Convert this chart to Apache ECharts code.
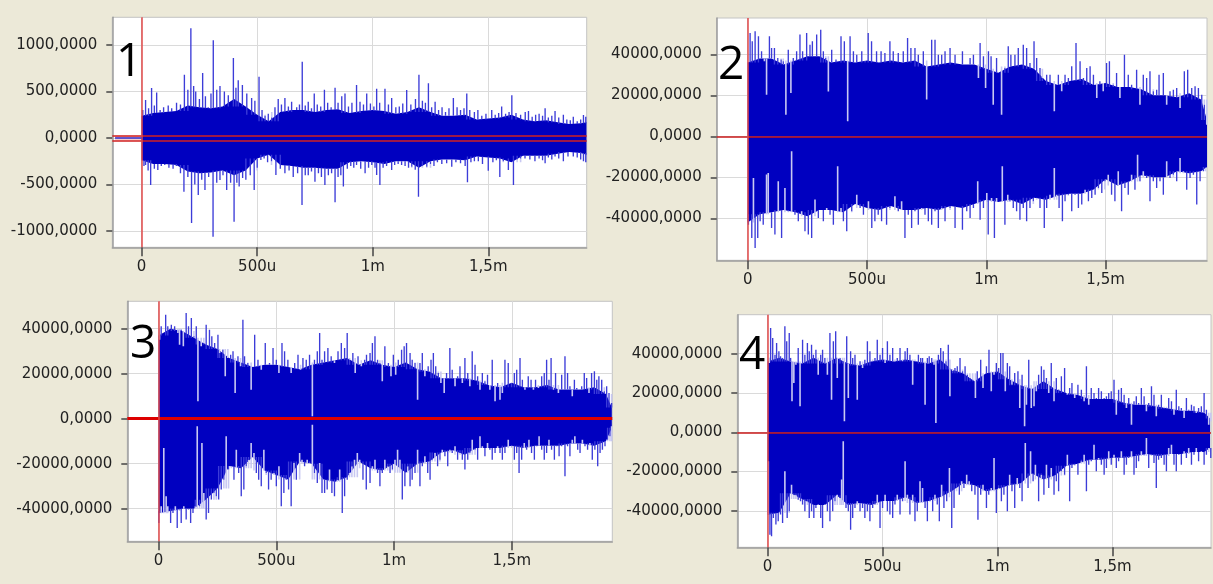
<!DOCTYPE html>
<html><head><meta charset="utf-8">
<script src="https://cdn.jsdelivr.net/npm/echarts@6/dist/echarts.min.js"></script>
<style>html,body{margin:0;padding:0;background:#ece9d8;}#c{width:1213px;height:584px;}</style>
</head><body><div id="c"></div>
<script>
// ---------- axis ticks / labels ----------
const X_TICKS = [0, 500, 1000, 1500];
const X_TICK_LABELS = ['0', '500u', '1m', '1,5m'];
const Y_TICKS_1 = [-1000, -500, 0, 500, 1000];
const Y_TICKS_BIG = [-40000, -20000, 0, 20000, 40000];
const PANEL_NAMES = ['1', '2', '3', '4'];

// sample times of the solid core envelope (all panels)
const CORE_X = [0,50,100,150,200,250,300,350,400,450,500,550,600,650,700,750,800,850,900,950,1000,1050,1100,1150,1200,1250,1300,1350,1400,1450,1500,1550,1600,1650,1700,1750,1800,1850,1900,1925];

// ---------- panel 1 ----------
const P1_CORE_HI = [240,270,280,290,350,330,320,340,420,340,250,180,280,300,300,280,300,310,270,290,300,290,260,280,330,280,240,240,250,200,210,220,250,200,180,190,170,150,160,170];
const P1_CORE_LO = [-240,-280,-280,-290,-360,-380,-370,-350,-400,-350,-220,-180,-290,-300,-320,-320,-330,-330,-260,-250,-260,-280,-250,-250,-320,-250,-230,-230,-240,-200,-210,-220,-260,-190,-190,-190,-170,-150,-160,-180];
const P1_UP = [[5,300],[17,408],[30,320],[43,537],[55,350],[65,490],[80,300],[95,330],[115,350],[130,320],[151,380],[168,360],[185,680],[200,520],[213,1180],[225,560],[234,500],[250,420],[264,700],[276,450],[288,330],[300,480],[310,1050],[325,520],[339,560],[358,500],[375,460],[397,860],[408,540],[418,620],[436,570],[455,480],[476,430],[490,400],[508,660],[521,300],[534,240],[548,260],[563,220],[577,330],[591,420],[605,360],[620,430],[635,340],[649,390],[660,300],[671,330],[683,360],[695,820],[708,350],[721,390],[735,320],[747,480],[760,360],[775,340],[791,520],[805,380],[820,330],[837,540],[850,380],[866,450],[880,480],[895,340],[910,380],[930,570],[945,390],[960,360],[974,480],[990,370],[1005,340],[1017,530],[1030,380],[1053,530],[1068,360],[1082,430],[1100,330],[1115,340],[1130,370],[1147,516],[1165,360],[1185,420],[1200,680],[1215,400],[1228,380],[1241,590],[1255,330],[1270,390],[1285,300],[1300,330],[1315,280],[1330,320],[1349,430],[1365,330],[1380,300],[1395,320],[1407,480],[1420,300],[1440,280],[1455,300],[1472,240],[1490,260],[1515,300],[1530,250],[1545,270],[1558,340],[1575,260],[1590,280],[1602,460],[1620,270],[1640,250],[1660,280],[1674,290],[1690,230],[1705,250],[1720,260],[1735,240],[1746,320],[1760,220],[1775,240],[1789,290],[1805,220],[1825,250],[1840,200],[1855,190],[1868,230],[1885,180],[1900,200],[1912,247],[1922,230]];
const P1_LO = [[10,-300],[17,-290],[28,-350],[39,-505],[55,-330],[70,-344],[85,-300],[100,-290],[118,-320],[136,-330],[150,-300],[168,-380],[183,-577],[200,-420],[216,-914],[230,-500],[245,-613],[260,-450],[274,-559],[290,-420],[309,-1061],[325,-480],[339,-451],[352,-400],[368,-559],[385,-480],[400,-899],[412,-480],[422,-520],[437,-430],[451,-450],[470,-400],[487,-560],[500,-320],[516,-236],[530,-220],[545,-260],[562,-250],[581,-398],[600,-330],[620,-380],[638,-350],[656,-420],[675,-380],[694,-720],[708,-400],[721,-400],[735,-360],[750,-469],[765,-380],[778,-420],[793,-505],[808,-400],[822,-380],[837,-690],[850,-420],[862,-400],[873,-520],[890,-330],[905,-300],[918,-320],[930,-290],[948,-330],[967,-380],[982,-320],[996,-290],[1010,-320],[1017,-397],[1031,-505],[1045,-320],[1060,-300],[1082,-344],[1095,-290],[1110,-280],[1125,-290],[1140,-300],[1155,-320],[1169,-310],[1184,-340],[1198,-631],[1215,-300],[1234,-310],[1250,-280],[1265,-300],[1280,-260],[1299,-280],[1320,-270],[1342,-310],[1360,-260],[1380,-270],[1400,-300],[1410,-475],[1425,-260],[1440,-250],[1457,-250],[1475,-280],[1500,-351],[1520,-260],[1535,-240],[1550,-420],[1565,-250],[1587,-344],[1609,-505],[1625,-230],[1640,-220],[1659,-220],[1680,-230],[1702,-250],[1720,-220],[1735,-240],[1746,-272],[1760,-210],[1775,-230],[1789,-200],[1805,-220],[1825,-250],[1845,-200],[1868,-200],[1885,-210],[1900,-230],[1912,-250],[1922,-260]];
const P1_PRETRIGGER = [[-115,0],[0,0]];
const P1_CURSOR = [-27, 27];

// ---------- panel 2 ----------
const P2_CORE_HI = [36000,38000,38000,35000,37000,39000,39000,36000,37000,36000,37000,36000,37000,36000,37000,34000,35000,36000,35000,35000,33000,31000,34000,35000,33000,27000,25000,27000,28000,25000,26000,24000,24000,23000,20000,20000,19000,21000,18000,8000];
const P2_CORE_LO = [-42000,-38000,-37000,-36000,-37000,-39000,-36000,-36000,-37000,-33000,-35000,-36000,-34000,-36000,-36000,-35000,-36000,-34000,-35000,-33000,-31000,-32000,-31000,-33000,-30000,-31000,-29000,-28000,-28000,-26000,-21000,-24000,-22000,-19000,-20000,-20000,-17000,-18000,-17000,-15000];
const P2_UP = [[10,50400],[19,46300],[31,51200],[45,48800],[58,41450],[70,36600],[79,20300],[91,48800],[100,43100],[112,43100],[126,38200],[140,37400],[149,36600],[160,10560],[170,42260],[181,21100],[191,38200],[205,41450],[219,49600],[230,41450],[247,50400],[261,44700],[271,46300],[289,49600],[306,52000],[317,41450],[327,38200],[338,21900],[352,42260],[370,37400],[391,48800],[405,46300],[419,7300],[429,48800],[443,41450],[457,39800],[478,41450],[492,36600],[505,50400],[519,46300],[540,41450],[559,41450],[575,40640],[596,46300],[610,41450],[631,40640],[652,41450],[670,47950],[684,43100],[701,43100],[715,39800],[736,41450],[750,17900],[771,47100],[785,47100],[799,39800],[813,39800],[827,41450],[848,43100],[869,39800],[900,41450],[932,38200],[946,39800],[967,28450],[974,45500],[988,39000],[997,23570],[1009,41450],[1020,39000],[1029,15440],[1043,38200],[1064,10560],[1078,33320],[1092,43890],[1103,39800],[1120,39800],[1134,43100],[1155,44700],[1169,43100],[1183,35760],[1200,46330],[1211,38200],[1225,33320],[1235,28450],[1253,30070],[1267,30070],[1285,12180],[1302,30070],[1316,21940],[1330,30070],[1344,28450],[1358,34130],[1376,45520],[1393,36570],[1407,28450],[1421,33320],[1435,34130],[1449,30070],[1463,18690],[1476,26820],[1490,21940],[1504,35760],[1516,36570],[1532,25190],[1546,30880],[1560,18690],[1579,39800],[1595,30070],[1609,25190],[1630,32510],[1644,15440],[1658,30070],[1672,28450],[1686,31700],[1700,21940],[1714,22750],[1724,30070],[1742,30880],[1756,15440],[1770,21940],[1784,22750],[1798,23570],[1812,13810],[1830,31700],[1844,32510],[1861,23570],[1875,24380],[1889,23570],[1903,20320],[1914,15440],[1924,5680]];
const P2_LO = [[3,-43100],[17,-49600],[24,-20340],[31,-54500],[42,-49600],[52,-41500],[65,-43100],[79,-18700],[86,-17900],[100,-44700],[114,-47970],[128,-21960],[142,-49600],[156,-25210],[170,-36600],[184,-7330],[198,-38220],[212,-41470],[226,-36600],[240,-46350],[254,-47970],[268,-49600],[282,-30900],[296,-39850],[317,-41470],[331,-34970],[345,-38220],[359,-43100],[377,-14640],[391,-34970],[401,-41470],[415,-46350],[436,-36600],[457,-28470],[471,-34970],[485,-38220],[506,-31720],[520,-44700],[533,-41470],[547,-38220],[561,-41470],[582,-43100],[596,-34970],[617,-29280],[631,-36600],[645,-31720],[659,-49600],[673,-38220],[687,-44700],[701,-36600],[715,-43100],[729,-34970],[743,-38220],[757,-41470],[771,-43100],[785,-36600],[799,-44700],[813,-34970],[827,-41470],[848,-34970],[869,-44700],[900,-45540],[918,-36600],[932,-39850],[946,-34970],[964,-21960],[974,-40660],[988,-34970],[1002,-27650],[1008,-47970],[1022,-30090],[1034,-49600],[1043,-30090],[1067,-14640],[1078,-43100],[1090,-28470],[1099,-31720],[1113,-34970],[1127,-36600],[1141,-40660],[1155,-34970],[1169,-41470],[1183,-34970],[1197,-31720],[1211,-30090],[1225,-34970],[1243,-44700],[1253,-34970],[1267,-28470],[1285,-15460],[1295,-28470],[1305,-34970],[1319,-41470],[1330,-31720],[1344,-28470],[1358,-36600],[1372,-28470],[1386,-34970],[1400,-33340],[1414,-26030],[1428,-31720],[1442,-30090],[1456,-28470],[1470,-25210],[1484,-27650],[1497,-21960],[1511,-18710],[1525,-28470],[1539,-31720],[1553,-17080],[1567,-36600],[1581,-25210],[1595,-28470],[1609,-18710],[1623,-26030],[1634,-8950],[1644,-21960],[1658,-17080],[1672,-20340],[1686,-31720],[1700,-21960],[1714,-25210],[1728,-21960],[1742,-28470],[1756,-12210],[1770,-20340],[1784,-18710],[1798,-21960],[1812,-10580],[1826,-17080],[1840,-26030],[1854,-20340],[1868,-18710],[1882,-33340],[1896,-21960],[1910,-17080],[1919,-15460]];

// ---------- panel 3 ----------
const P3_CORE_HI = [37000,40000,39000,36000,33000,31000,27000,25000,23000,24000,24000,23000,22000,24000,25000,26000,27000,24000,26000,24000,23000,25000,22000,21000,18000,18000,18000,17000,15000,14000,16000,14000,14000,15000,13000,13000,13000,14000,11000,5000];
const P3_CORE_LO = [-42000,-41000,-40000,-40000,-36000,-31000,-21000,-22000,-17000,-23000,-25000,-27000,-19000,-20000,-27000,-28000,-26000,-19000,-22000,-23000,-20000,-24000,-20000,-19000,-15000,-14000,-16000,-13000,-13000,-13000,-12000,-13000,-12000,-12000,-12000,-11000,-11000,-12000,-10000,-4000];
const P3_UP = [[4,35130],[11,41050],[30,46230],[39,41050],[54,41790],[68,41050],[82,38090],[89,32900],[96,39570],[105,32160],[117,46970],[127,41050],[139,44750],[150,36610],[160,41050],[167,7730],[181,32160],[192,33640],[202,41790],[216,39570],[226,36610],[238,33640],[252,37350],[259,29200],[273,30680],[283,18840],[294,26980],[306,28460],[316,29940],[325,11430],[337,27720],[348,23280],[358,44010],[365,27720],[379,24760],[393,12910],[408,37350],[422,26240],[436,21800],[453,33640],[471,24760],[486,31420],[500,26240],[511,20320],[524,33640],[535,29940],[549,26240],[563,20320],[578,24760],[592,28460],[603,21800],[613,26980],[627,26240],[641,28460],[653,1060],[662,26240],[674,29940],[684,38090],[694,26240],[705,29940],[719,31420],[733,27720],[747,24760],[762,29940],[776,33640],[790,31420],[801,38090],[811,26240],[825,29200],[835,20320],[847,27720],[861,23280],[875,26240],[883,28460],[898,29200],[908,33640],[919,36610],[930,26240],[940,24760],[950,16610],[961,32160],[976,24760],[987,18840],[997,28460],[1007,19580],[1018,26240],[1032,30680],[1043,32160],[1053,33640],[1068,29200],[1077,26240],[1089,24760],[1100,8470],[1110,24760],[1120,29200],[1131,18840],[1145,23280],[1157,26240],[1167,29200],[1177,23280],[1188,20320],[1199,15870],[1213,11430],[1223,20320],[1237,31420],[1247,21800],[1259,14390],[1270,18840],[1280,23280],[1290,15870],[1301,26980],[1313,20320],[1322,14390],[1332,29940],[1344,24020],[1355,18840],[1365,12910],[1375,20320],[1386,16610],[1397,19580],[1407,12910],[1417,26240],[1429,7730],[1440,15870],[1450,8470],[1460,11430],[1471,26240],[1485,24760],[1499,15870],[1511,20320],[1521,21800],[1535,26980],[1545,17350],[1556,12910],[1570,18840],[1582,17350],[1592,12910],[1601,17350],[1613,13650],[1627,18840],[1638,20320],[1648,26240],[1658,17350],[1667,26980],[1677,12910],[1686,20320],[1698,11430],[1712,19580],[1726,27720],[1737,20320],[1747,14390],[1757,9950],[1766,17350],[1776,13650],[1785,12910],[1797,14390],[1808,20320],[1818,18090],[1828,11430],[1839,20320],[1851,21060],[1861,17350],[1870,18840],[1882,17350],[1893,12170],[1903,14390],[1913,11430],[1924,6990]];
const P3_LO = [[1,-46330],[11,-38920],[22,-13010],[32,-34480],[39,-38920],[51,-46330],[61,-41880],[71,-38920],[79,-48550],[89,-40400],[96,-46330],[107,-38920],[117,-44850],[127,-40400],[136,-46330],[146,-41880],[156,-38920],[164,-3380],[174,-38920],[184,-10780],[192,-33000],[202,-44850],[212,-41880],[224,-35960],[235,-33000],[245,-34480],[255,-35960],[266,-31520],[277,-27080],[287,-7820],[297,-22630],[309,-21150],[320,-27080],[330,-13750],[340,-24110],[351,-34480],[362,-31520],[372,-21150],[382,-18190],[393,-10780],[405,-15230],[415,-24110],[425,-27080],[436,-30040],[447,-13750],[457,-24110],[467,-31520],[478,-27080],[490,-24110],[500,-30040],[511,-21150],[521,-38920],[532,-33000],[542,-27080],[552,-31520],[563,-38920],[575,-19670],[585,-27080],[599,-15230],[609,-18190],[620,-21150],[631,-18190],[641,-19670],[653,-2640],[662,-24110],[674,-28560],[684,-19670],[694,-33000],[705,-33000],[716,-31520],[726,-22630],[736,-33000],[747,-34480],[759,-27080],[769,-22630],[780,-41880],[790,-34480],[801,-27080],[811,-24110],[821,-21150],[832,-18190],[844,-15230],[854,-18190],[868,-27080],[882,-31520],[898,-28560],[908,-21150],[919,-18190],[930,-24110],[940,-30040],[950,-24110],[961,-18190],[973,-21150],[983,-24110],[993,-22630],[1004,-18190],[1015,-13750],[1025,-18190],[1035,-35960],[1046,-30040],[1058,-21150],[1068,-30040],[1077,-27080],[1089,-24110],[1100,-13750],[1110,-30040],[1120,-21150],[1131,-16710],[1143,-24110],[1153,-27080],[1162,-18190],[1174,-15230],[1185,-21150],[1195,-18190],[1205,-13750],[1216,-16710],[1228,-21150],[1237,-13750],[1247,-15230],[1259,-12270],[1270,-18190],[1280,-15230],[1290,-18190],[1301,-22630],[1313,-18190],[1322,-15230],[1332,-9300],[1344,-13750],[1355,-18190],[1365,-7820],[1375,-12270],[1386,-16710],[1397,-10780],[1407,-13750],[1417,-18190],[1429,-15230],[1440,-12270],[1450,-15230],[1460,-18190],[1471,-15230],[1485,-9300],[1499,-12270],[1511,-18190],[1521,-15230],[1531,-24110],[1542,-18190],[1553,-10780],[1563,-13750],[1573,-9300],[1584,-15230],[1596,-18190],[1606,-12270],[1616,-7820],[1627,-13750],[1638,-18190],[1648,-15230],[1658,-9300],[1669,-13750],[1681,-18190],[1691,-12270],[1701,-16710],[1712,-12270],[1726,-25600],[1737,-12270],[1747,-16710],[1757,-9300],[1768,-7820],[1780,-13750],[1790,-15230],[1800,-9300],[1811,-12270],[1822,-13750],[1832,-10780],[1842,-18190],[1853,-13750],[1865,-21150],[1875,-15230],[1885,-13750],[1896,-12270],[1907,-9300],[1917,-7820],[1924,-3380]];

// ---------- panel 4 ----------
const P4_CORE_HI = [36000,38000,36000,35000,38000,35000,38000,35000,34000,36000,37000,36000,37000,36000,35000,37000,32000,30000,26000,30000,31000,27000,24000,22000,26000,22000,20000,19000,17000,17000,17000,15000,14000,14000,13000,12000,11000,11000,10000,7000];
const P4_CORE_LO = [-42000,-41000,-31000,-34000,-37000,-37000,-32000,-37000,-36000,-37000,-35000,-35000,-33000,-36000,-35000,-33000,-30000,-26000,-27000,-30000,-29000,-27000,-26000,-21000,-24000,-22000,-17000,-16000,-14000,-14000,-13000,-13000,-12000,-11000,-12000,-11000,-11000,-10000,-10000,-8000];
const P4_UP = [[7,35280],[13,53080],[22,47990],[32,39520],[39,45450],[49,41210],[56,38670],[65,37820],[75,53930],[83,46300],[94,50540],[100,37820],[106,15770],[114,25100],[123,34430],[133,42910],[141,13230],[152,47150],[162,39520],[173,45450],[181,41210],[191,44600],[199,39520],[210,42060],[220,29340],[231,39520],[239,42060],[249,37820],[260,29340],[271,50540],[278,16620],[286,46300],[296,51390],[303,27640],[315,37820],[326,36120],[334,5590],[344,48840],[351,17470],[361,41210],[370,37820],[380,39520],[390,16620],[402,36120],[413,32730],[423,36970],[434,46300],[445,41210],[457,36120],[467,37820],[477,47150],[489,39520],[500,42910],[511,35280],[521,46300],[532,39520],[544,42910],[554,36120],[564,37820],[576,42910],[587,36120],[598,41210],[608,42910],[619,39520],[631,24250],[641,36120],[656,39520],[666,37820],[674,37820],[685,14080],[695,37820],[703,38670],[714,37820],[724,34430],[732,4750],[743,39520],[753,42910],[764,41210],[776,36120],[786,44600],[793,18320],[805,31040],[815,32730],[825,33580],[837,37820],[848,31040],[859,33580],[869,29340],[880,27640],[892,26790],[904,17470],[912,31040],[927,36970],[937,22560],[952,33580],[963,42060],[973,20860],[985,29340],[995,35280],[1005,32730],[1014,40360],[1024,40360],[1034,20860],[1043,35280],[1053,33580],[1063,24250],[1075,30190],[1089,31040],[1097,12380],[1107,29340],[1118,3050],[1126,14080],[1136,36970],[1147,12380],[1159,13230],[1169,20860],[1179,29340],[1191,33580],[1202,31880],[1213,27640],[1223,20010],[1234,35280],[1246,15770],[1256,27640],[1266,21710],[1278,28490],[1292,32730],[1304,19160],[1314,22560],[1324,25100],[1336,17470],[1350,24250],[1365,21710],[1377,15770],[1387,33580],[1397,14080],[1408,22560],[1420,20010],[1430,17470],[1440,22560],[1452,20860],[1464,17470],[1474,18320],[1484,20010],[1495,20860],[1507,26790],[1517,8990],[1527,21710],[1539,22560],[1551,19160],[1561,12380],[1571,17470],[1583,3900],[1594,15770],[1604,18320],[1614,14920],[1626,22560],[1638,18320],[1648,10690],[1658,14920],[1670,23400],[1681,19160],[1691,8140],[1701,14080],[1713,19160],[1725,12380],[1735,12380],[1745,17470],[1757,15770],[1768,8990],[1778,21710],[1789,13230],[1800,12380],[1812,7290],[1822,17470],[1832,11530],[1844,14080],[1855,13230],[1865,9840],[1875,12380],[1887,13230],[1899,20010],[1909,11530],[1919,3900],[1928,5590]];
const P4_LO = [[3,-14760],[10,-52070],[17,-52920],[25,-43590],[36,-46980],[46,-45280],[56,-41890],[65,-46130],[75,-19840],[85,-43590],[94,-40200],[104,-26630],[114,-31720],[123,-31720],[133,-34260],[143,-35110],[152,-36800],[162,-40200],[173,-35110],[181,-43590],[191,-40200],[201,-43590],[210,-38500],[220,-36800],[231,-43590],[239,-48680],[249,-36800],[260,-40200],[271,-45280],[283,-40200],[293,-35110],[303,-31720],[315,-33410],[322,-24080],[329,-4580],[341,-38500],[351,-40200],[361,-49530],[370,-43590],[380,-38500],[390,-35110],[402,-40200],[413,-38500],[423,-43590],[434,-40200],[445,-45280],[457,-38500],[467,-36800],[477,-31720],[489,-48680],[500,-38500],[511,-31720],[521,-40200],[532,-41890],[544,-43590],[554,-36800],[564,-31720],[576,-41890],[587,-35110],[598,-14760],[608,-31720],[619,-41890],[631,-31720],[641,-45280],[651,-40200],[663,-24930],[674,-28330],[685,-38500],[695,-45280],[706,-35110],[718,-40200],[728,-31720],[738,-36800],[747,-45280],[757,-26630],[767,-38500],[779,-35110],[791,-18150],[801,-48680],[811,-38500],[822,-28330],[834,-31720],[844,-24930],[854,-28330],[866,-21540],[877,-24930],[888,-30020],[902,-31720],[915,-44440],[927,-31720],[937,-26630],[952,-38500],[962,-31720],[973,-28330],[985,-13060],[995,-41040],[1005,-28330],[1017,-35110],[1028,-31720],[1043,-40200],[1053,-21540],[1063,-30020],[1075,-38500],[1086,-23240],[1097,-28330],[1107,-35110],[1121,-5430],[1133,-28330],[1144,-9670],[1155,-24930],[1165,-16450],[1179,-35110],[1191,-21540],[1202,-31720],[1213,-16450],[1223,-28330],[1234,-18150],[1246,-31720],[1256,-24930],[1266,-30020],[1278,-19840],[1292,-21540],[1304,-11360],[1314,-35110],[1324,-18150],[1336,-16450],[1350,-21540],[1365,-14760],[1377,-11360],[1387,-30020],[1397,-16450],[1408,-14760],[1420,-6280],[1430,-19840],[1440,-13060],[1452,-16450],[1464,-21540],[1474,-18150],[1484,-9670],[1495,-16450],[1507,-11360],[1517,-18150],[1527,-14760],[1539,-9670],[1551,-21540],[1561,-16450],[1571,-13060],[1583,-9670],[1594,-21540],[1604,-18150],[1614,-14760],[1626,-9670],[1638,-11360],[1648,-2880],[1658,-18150],[1670,-11360],[1681,-15600],[1691,-28330],[1701,-13910],[1713,-13060],[1725,-16450],[1735,-19840],[1745,-7970],[1757,-6280],[1768,-16450],[1778,-19840],[1789,-11360],[1800,-16450],[1812,-9670],[1822,-13060],[1832,-7970],[1844,-16450],[1855,-11360],[1865,-7970],[1875,-14760],[1887,-9670],[1899,-16450],[1909,-11360],[1919,-7970],[1928,-13060]];

// ---------- layout (positions / styles only) ----------
const LAYOUT = [
  {left:112.3, top:17.3, width:474.4, height:230.0, xMin:-127, xMax:1926, yMin:-1175,  yMax:1298,  zeroW:1.5, zeroC:'#c81818', num:[116,40]},
  {left:716.7, top:18.0, width:490.3, height:242.3, xMin:-130, xMax:1925, yMin:-60500, yMax:57700, zeroW:1.6, zeroC:'#c81818', num:[718,43]},
  {left:127.3, top:301.3,width:485.0, height:240.0, xMin:-133, xMax:1927, yMin:-54490, yMax:52180, zeroW:3.0, zeroC:'#dd0000', num:[130,322]},
  {left:737.3, top:314.7,width:473.7, height:232.6, xMin:-132, xMax:1929, yMin:-58520, yMax:59850, zeroW:1.6, zeroC:'#c81818', num:[739,333]}
];
const PANELS = [
  {hi:P1_CORE_HI, lo:P1_CORE_LO, up:P1_UP, dn:P1_LO, yTicks:Y_TICKS_1},
  {hi:P2_CORE_HI, lo:P2_CORE_LO, up:P2_UP, dn:P2_LO, yTicks:Y_TICKS_BIG},
  {hi:P3_CORE_HI, lo:P3_CORE_LO, up:P3_UP, dn:P3_LO, yTicks:Y_TICKS_BIG},
  {hi:P4_CORE_HI, lo:P4_CORE_LO, up:P4_UP, dn:P4_LO, yTicks:Y_TICKS_BIG}
];

const CORE_COLOR = '#0000c0';
const SPIKE_COLOR = '#3c3cd8';
const GAP_COLOR = '#c8c8f2';
const FONT = 'DejaVu Sans';

function fmtY(v){ return v.toFixed(4).replace('.', ','); }
function fmtX(v){ const i = X_TICKS.indexOf(v); return i >= 0 ? X_TICK_LABELS[i] : ''; }

// outer / inner extreme of the core band around time x (two bracketing core samples)
function coreRange(c, x){
  let j = CORE_X.findIndex(t => t >= x);
  if (j < 0) j = CORE_X.length - 1;
  const i = Math.max(0, j - 1);
  return [Math.min(c[i], c[j]), Math.max(c[i], c[j])];
}

function segSeries(gi, data, color, width, z){
  return {
    type:'custom', xAxisIndex:gi, yAxisIndex:gi, z, silent:true, clip:true,
    data, encode:{x:0, y:[1,2]},
    renderItem(params, api){
      const a = api.coord([api.value(0), api.value(1)]);
      const b = api.coord([api.value(0), api.value(2)]);
      return {type:'line', shape:{x1:a[0], y1:a[1], x2:b[0], y2:b[1]},
              style:{stroke:color, lineWidth:width}};
    }
  };
}

const grids = [], xAxes = [], yAxes = [], series = [], graphics = [];
LAYOUT.forEach((L, gi) => {
  const P = PANELS[gi];
  grids.push({left:L.left, top:L.top, width:L.width, height:L.height, show:true,
    backgroundColor:'#ffffff', borderColor:'#c4c4c4', borderWidth:1});
  xAxes.push({type:'value', gridIndex:gi, min:L.xMin, max:L.xMax,
    axisLine:{show:true, onZero:false, lineStyle:{color:'#9c9c9c', width:1.5}},
    axisTick:{show:true, customValues:X_TICKS, length:9, lineStyle:{color:'#444', width:1.5}},
    axisLabel:{customValues:X_TICKS, formatter:fmtX, color:'#222', fontFamily:FONT, fontSize:15, margin:12},
    splitLine:{show:true, lineStyle:{color:'#dadada', width:1}}});
  yAxes.push({type:'value', gridIndex:gi, min:L.yMin, max:L.yMax,
    axisLine:{show:true, onZero:false, lineStyle:{color:'#9c9c9c', width:1.5}},
    axisTick:{show:true, customValues:P.yTicks, length:6, lineStyle:{color:'#444', width:1.5}},
    axisLabel:{customValues:P.yTicks, formatter:fmtY, color:'#222', fontFamily:FONT, fontSize:15, margin:15},
    splitLine:{show:true, lineStyle:{color:'#dadada', width:1}}});

  // solid core of the trace
  [P.hi, P.lo].forEach(arr => {
    series.push({type:'line', xAxisIndex:gi, yAxisIndex:gi, z:2, silent:true,
      data:CORE_X.map((x, i) => [x, arr[i]]), symbol:'none', showSymbol:false,
      lineStyle:{width:0, opacity:0}, areaStyle:{color:CORE_COLOR, opacity:1, origin:'auto'}});
  });
  // low-amplitude samples: gaps into the core; high ones: spikes beyond it
  const gaps = [], upS = [], dnS = [];
  P.up.forEach(([x, v]) => {
    const [inner, outer] = coreRange(P.hi, x);
    if (v < outer) gaps.push([x, v, outer]);
    if (v > inner) upS.push([x, inner, v]);
  });
  P.dn.forEach(([x, v]) => {
    const [outer, inner] = coreRange(P.lo, x);
    if (v > outer) gaps.push([x, v, outer]);
    if (v < inner) dnS.push([x, inner, v]);
  });
  series.push(segSeries(gi, gaps, GAP_COLOR, 1.6, 3));
  series.push(segSeries(gi, upS, SPIKE_COLOR, 1.35, 4));
  series.push(segSeries(gi, dnS, SPIKE_COLOR, 1.35, 4));

  // reference lines
  const mlData = [];
  if (gi === 0) {
    P1_CURSOR.forEach(y => mlData.push({yAxis:y, lineStyle:{color:'#d02020', width:1.5, type:'solid'}}));
  } else {
    mlData.push({yAxis:0, lineStyle:{color:L.zeroC, width:L.zeroW, type:'solid'}});
  }
  mlData.push({xAxis:0, lineStyle:{color:'#e04848', width:1.5, type:'solid'}});
  const ref = {type:'line', xAxisIndex:gi, yAxisIndex:gi, z:8, silent:true,
    data: gi === 0 ? P1_PRETRIGGER : [], symbol:'none',
    lineStyle:{color:'#3030d0', width:1.5},
    markLine:{silent:true, symbol:['none','none'], label:{show:false}, animation:false, data:mlData}};
  if (gi === 0) {
    ref.markArea = {silent:true, itemStyle:{color:'rgba(235,110,110,0.35)'},
      data:[[{xAxis:'min', yAxis:P1_CURSOR[0]}, {xAxis:0, yAxis:P1_CURSOR[1]}]]};
  }
  series.push(ref);

  graphics.push({type:'text', left:L.num[0], top:L.num[1], z:100,
    style:{text:PANEL_NAMES[gi], fill:'#000', font:'46px "Open Sans"'}});
});

const chart = echarts.init(document.getElementById('c'), null, {renderer:'canvas'});
chart.setOption({
  backgroundColor:'#ece9d8', animation:false,
  grid:grids, xAxis:xAxes, yAxis:yAxes, series, graphic:graphics
});
</script></body></html>
